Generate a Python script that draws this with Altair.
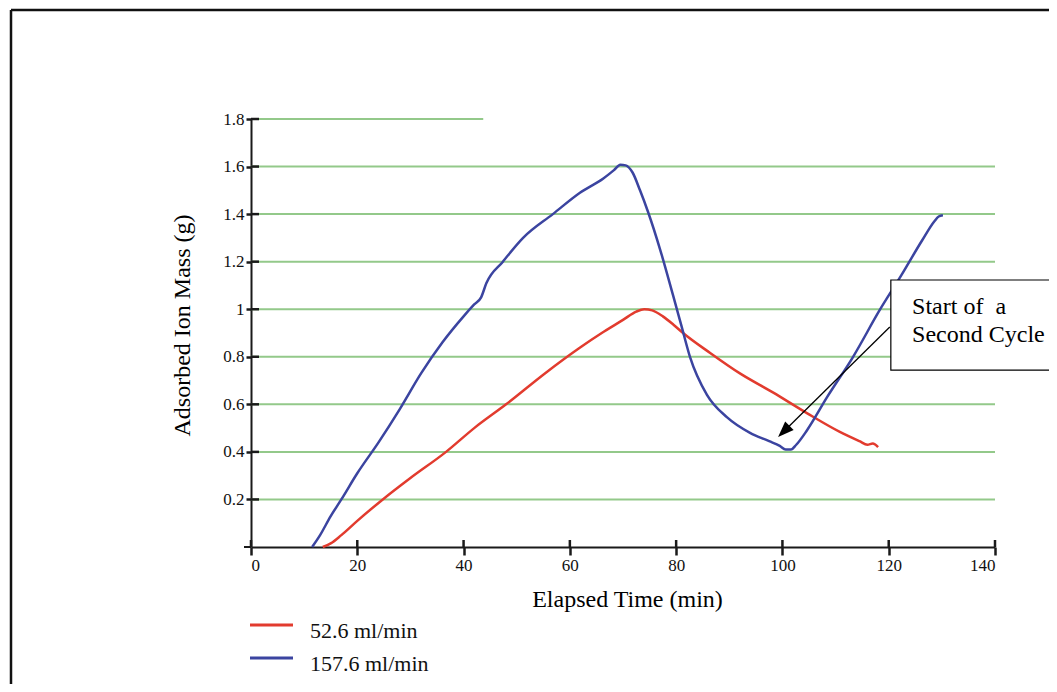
import altair as alt
import pandas as pd

# ---------------- data ----------------
red_t = [13.5, 15, 17, 20, 24.8, 30, 36.7, 42, 48, 55.3, 62, 66, 70, 72.5, 74, 75.5,
         77.5, 79.5, 81.3, 86.4, 92, 98.2, 104.6, 110.8, 114.5, 116, 117, 118]
red_v = [0, 0.015, 0.05, 0.11, 0.2, 0.29, 0.4, 0.5, 0.6, 0.73, 0.84, 0.9, 0.955, 0.99, 1.0, 0.995,
         0.97, 0.935, 0.9, 0.816, 0.73, 0.65, 0.563, 0.484, 0.445, 0.43, 0.435, 0.42]

blue_t = [11.5, 13, 15, 17, 20, 24, 28, 32, 36, 40, 42, 43.3, 44.3, 47.4, 51.2, 56.8, 61.9,
          66.3, 68.3, 69.5, 70.5, 71.8, 73.2, 74.7, 77, 79.4, 81, 82.6, 85.8, 89.6, 93.9,
          97.5, 99.5, 100.6, 101.6, 102.6, 104.6, 108.4, 113.3, 118.4, 122.3, 126.3, 128.6,
          129.4, 130.2]
blue_v = [0, 0.05, 0.13, 0.2, 0.31, 0.44, 0.58, 0.73, 0.86, 0.97, 1.02, 1.05, 1.11, 1.2, 1.3,
          1.4, 1.49, 1.55, 1.585, 1.608, 1.605, 1.575, 1.5, 1.41, 1.25, 1.06, 0.93, 0.8, 0.64,
          0.545, 0.48, 0.445, 0.425, 0.41, 0.41, 0.43, 0.49, 0.63, 0.8, 1.0, 1.14, 1.29, 1.37,
          1.39, 1.395]

series_names = ["52.6 ml/min", "157.6 ml/min"]
series_colors = ["#e23b2e", "#3b44a0"]

x_ticks = [0, 20, 40, 60, 80, 100, 120, 140]
y_ticks = [0.2, 0.4, 0.6, 0.8, 1.0, 1.2, 1.4, 1.6, 1.8]
grid_end = [140, 140, 140, 140, 140, 140, 140, 140, 43.7]

note_lines = ["Start of\u00a0 a", "Second Cycle"]
note_text_x = [124.4, 124.4]
note_text_y = [0.98, 0.862]
note_box = {"x": 120.4, "x2": 155, "y": 1.123, "y2": 0.744}
arrow = {"x": 120.2, "y": 0.925, "x2": 100.25, "y2": 0.486}

FONT = "Liberation Serif"
W, H = 744, 428
AXC = "#1a1a1a"

# ---------------- tables ----------------
curves = pd.concat([
    pd.DataFrame({"t": red_t, "v": red_v, "s": series_names[0]}),
    pd.DataFrame({"t": blue_t, "v": blue_v, "s": series_names[1]}),
])
grid_df = pd.DataFrame({"y": y_ticks, "x0": [0] * len(y_ticks), "x1": grid_end})
yt_df = pd.DataFrame({"y": y_ticks})
xt_df = pd.DataFrame({"x": x_ticks})
note_df = pd.DataFrame({"x": note_text_x, "y": note_text_y, "txt": note_lines})
box_df = pd.DataFrame([note_box])
arrow_df = pd.DataFrame([arrow])
one = pd.DataFrame({"k": [0]})

xs = alt.Scale(domain=[0, 140], nice=False, zero=False)
ys = alt.Scale(domain=[0, 1.8], nice=False, zero=False)

XAX = alt.Axis(values=x_ticks, title="Elapsed Time (min)", grid=False,
               domainColor=AXC, domainWidth=2, tickColor=AXC, tickWidth=2.5,
               tickSize=8, labelFont=FONT, labelFontSize=17, labelColor="#111",
               labelPadding=2, titleFont=FONT, titleFontSize=24,
               titleFontWeight="normal", titleColor="#000",
               titleX=376, titleY=59, titleBaseline="alphabetic")
YAX = alt.Axis(values=y_ticks, format="~g", title="Adsorbed Ion Mass (g)",
               grid=False, domainColor=AXC, domainWidth=2, tickColor=AXC,
               tickWidth=2.5, tickSize=5, labelFont=FONT, labelFontSize=17,
               labelColor="#111", labelPadding=2, titleFont=FONT,
               titleFontSize=24, titleFontWeight="normal", titleColor="#000",
               titleAngle=-90, titleX=-69, titleY=206, titleAlign="center",
               titleBaseline="middle")


def X(f):
    return alt.X(f, scale=xs, axis=XAX)


def Y(f):
    return alt.Y(f, scale=ys, axis=YAX)


grid = alt.Chart(grid_df).mark_rule(color="#93c98a", strokeWidth=2).encode(
    x=X("x0:Q"), x2="x1:Q", y=Y("y:Q"))

lines = alt.Chart(curves).mark_line(strokeWidth=2.5, interpolate="monotone").encode(
    x=X("t:Q"), y=Y("v:Q"),
    color=alt.Color("s:N", scale=alt.Scale(domain=series_names, range=series_colors),
                    legend=None),
    detail="s:N",
)

ytick_in = alt.Chart(yt_df).mark_rule(color=AXC, strokeWidth=2.5).encode(
    y=Y("y:Q"), x=alt.value(0), x2=alt.value(8))
xtick_in = alt.Chart(xt_df).mark_rule(color=AXC, strokeWidth=2.5).encode(
    x=X("x:Q"), y=alt.value(H), y2=alt.value(H - 7))
x_axis_stub = alt.Chart(one).mark_rule(color=AXC, strokeWidth=2).encode(
    x=alt.value(-7), x2=alt.value(0), y=alt.value(H))

box = alt.Chart(box_df).mark_rect(fill="white", stroke="black", strokeWidth=1.2).encode(
    x=X("x:Q"), x2="x2:Q", y=Y("y:Q"), y2="y2:Q")
note = alt.Chart(note_df).mark_text(font=FONT, fontSize=24, align="left",
                                    baseline="alphabetic", color="black").encode(
    x=X("x:Q"), y=Y("y:Q"), text="txt:N")
arrow_line = alt.Chart(arrow_df).mark_rule(color="black", strokeWidth=1.3).encode(
    x=X("x:Q"), x2="x2:Q", y=Y("y:Q"), y2="y2:Q")
arrow_head = alt.Chart(arrow_df).mark_point(
    shape="M0,-1L0.75,1L-0.75,1Z", filled=True, size=256, angle=225,
    color="black", opacity=1).encode(x=X("x2:Q"), y=Y("y2:Q"))

# legend (drawn below the axis)
leg_layers = []
for i, (name, col) in enumerate(zip(series_names, series_colors)):
    ly = 506 + 33 * i
    leg_layers.append(alt.Chart(one).mark_rule(color=col, strokeWidth=3).encode(
        x=alt.value(-1), x2=alt.value(42), y=alt.value(ly)))
    leg_layers.append(alt.Chart(one).mark_text(
        text=name, font=FONT, fontSize=22, align="left", baseline="alphabetic",
        color="#111").encode(x=alt.value(59), y=alt.value(ly + 13)))

# outer frame (top and left edges are visible in the reference)
frame = [
    alt.Chart(one).mark_rule(color="#111", strokeWidth=2.5).encode(
        x=alt.value(-240), x2=alt.value(820), y=alt.value(-109)),
    alt.Chart(one).mark_rule(color="#111", strokeWidth=2.5).encode(
        x=alt.value(-240), y=alt.value(-109), y2=alt.value(700)),
]

chart = alt.layer(
    grid, lines, ytick_in, xtick_in, x_axis_stub, box, note, arrow_line, arrow_head,
    *leg_layers, *frame
).properties(
    width=W, height=H,
    padding={"left": 243, "top": 111, "right": 54, "bottom": 137},
    autosize=alt.AutoSizeParams(type="none"),
    background="white",
).configure_view(stroke="transparent")

chart.save("out.html", embed_options={"renderer": "svg", "actions": False})
